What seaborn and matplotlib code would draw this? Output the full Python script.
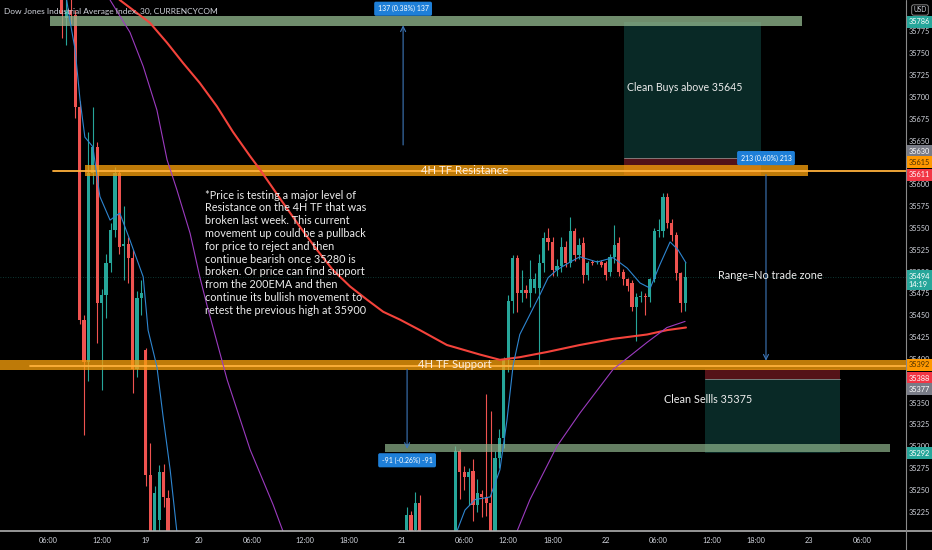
import matplotlib
matplotlib.use("Agg")
import matplotlib.pyplot as plt
import matplotlib.transforms as mtransforms
from matplotlib.patches import Rectangle
from matplotlib.lines import Line2D
import numpy as np
import pandas as pd
import seaborn as sns

# ---------------- 30-minute candles (x = bar slot on the session axis) ----------------
bar_idx = list(range(14, 39)) + [92, 93, 94, 95] + list(range(103, 156))
opens = [35830, 35790, 35800, 35794, 35689, 35445, 35396, 35613, 35643, 35464,
         35473, 35510, 35548, 35613, 35529, 35532, 35516, 35388, 35470, 35410,
         35267, 35180, 35216, 35270, 35241,
         35204, 35221, 35204, 35235,
         35190, 35295, 35270, 35265, 35272, 35233, 35245, 35242, 35235, 35195,
         35287, 35310, 35399, 35466, 35516, 35476, 35479, 35476, 35481, 35481,
         35510, 35539, 35534, 35502, 35506, 35528, 35510, 35546, 35519, 35533,
         35496, 35511, 35511, 35511, 35510, 35499, 35517, 35533, 35500, 35491,
         35487, 35460, 35471, 35472, 35471, 35491, 35546, 35546, 35586, 35556,
         35542, 35498, 35464]
highs = [35840, 35815, 35812, 35800, 35695, 35450, 35660, 35688, 35648, 35480,
         35520, 35556, 35620, 35616, 35575, 35540, 35525, 35478, 35490, 35412,
         35304, 35255, 35279, 35280, 35250,
         35230, 35226, 35248, 35244,
         35300, 35297, 35277, 35275, 35285, 35262, 35250, 35360, 35340, 35295,
         35320, 35402, 35473, 35519, 35519, 35502, 35485, 35513, 35498, 35520,
         35545, 35550, 35540, 35515, 35540, 35535, 35563, 35550, 35538, 35540,
         35512, 35513, 35513, 35513, 35512, 35520, 35553, 35540, 35503, 35493,
         35490, 35475, 35478, 35476, 35493, 35550, 35560, 35590, 35590, 35560,
         35545, 35500, 35511]
lows = [35768, 35760, 35783, 35676, 35440, 35313, 35375, 35600, 35418, 35364,
        35447, 35500, 35540, 35520, 35490, 35487, 35361, 35379, 35450, 35255,
        35150, 35170, 35200, 35230, 35160,
        35195, 35190, 35198, 35190,
        35180, 35240, 35250, 35233, 35215, 35225, 35219, 35220, 35180, 35185,
        35275, 35298, 35385, 35453, 35454, 35465, 35470, 35460, 35475, 35392,
        35500, 35525, 35495, 35495, 35500, 35505, 35505, 35512, 35515, 35487,
        35490, 35508, 35509, 35505, 35490, 35495, 35510, 35495, 35485, 35478,
        35455, 35420, 35465, 35450, 35465, 35488, 35540, 35540, 35550, 35535,
        35490, 35454, 35455]
closes = [35795, 35798, 35794, 35689, 35445, 35396, 35613, 35643, 35464, 35473,
          35510, 35548, 35613, 35528, 35532, 35516, 35388, 35470, 35476, 35267,
          35180, 35247, 35270, 35242, 35180,
          35221, 35195, 35235, 35195,
          35295, 35270, 35265, 35270, 35233, 35247, 35242, 35235, 35195, 35287,
          35310, 35399, 35466, 35516, 35476, 35479, 35476, 35492, 35491, 35510,
          35539, 35534, 35502, 35507, 35528, 35510, 35546, 35519, 35531, 35496,
          35510, 35510, 35512, 35508, 35496, 35517, 35531, 35500, 35491, 35483,
          35460, 35471, 35472, 35471, 35491, 35546, 35548, 35586, 35556, 35542,
          35498, 35464, 35494]

# ---------------- moving averages ----------------
ema200_x = [23.8, 27.1, 33.9, 37.8, 41.4, 45.2, 49.1, 52.7, 56.6, 58.8, 64.0, 67.9,
            71.7, 75.3, 79.2, 83.0, 86.7, 90.5, 95.0, 101.1, 108.6, 113.1, 117.6,
            123.8, 131.2, 138.7, 146.4, 150.9, 155.2]
ema200_y = [35828, 35811, 35785, 35762, 35739, 35716, 35689, 35660, 35632, 35617, 35579, 35551,
            35525, 35502, 35483, 35468, 35454, 35445, 35433, 35416, 35405, 35399, 35402,
            35408, 35416, 35423, 35428, 35433, 35436]

ema_slow_x_a = [22.6, 24.9, 29.4, 32.4, 35.5, 37.8, 40.0, 43.0, 45.2, 46.8, 51.4,
                56.6, 61.8, 64.0, 66.1]
ema_slow_y_a = [35840, 35811, 35774, 35735, 35685, 35628, 35594, 35544, 35494, 35462, 35376,
                35296, 35233, 35203, 35176]
ema_slow_x_b = [114.3, 117.0, 119.9, 126.0, 131.2, 138.7, 146.4, 150.9, 155.0]
ema_slow_y_b = [35176, 35203, 35239, 35300, 35338, 35388, 35419, 35436, 35443]

ema_fast_x_a = [14.9, 15.8, 17.0, 18.1, 19.2, 21.0, 22.6, 24.9, 27.1, 29.4, 32.4,
                33.5, 35.5, 36.9, 38.5, 40.0, 40.7]
ema_fast_y_a = [35817, 35788, 35754, 35697, 35654, 35643, 35586, 35559, 35567, 35536, 35494,
                35433, 35391, 35334, 35273, 35203, 35176]
ema_fast_x_b = [102.3, 103.4, 105.2, 107.5, 110.9, 113.1, 114.7, 116.1, 117.6, 119.9, 122.2,
                124.0, 126.0, 129.0, 131.2, 135.1, 138.7, 141.9, 144.8, 147.1, 149.3,
                151.6, 153.4, 155.2]
ema_fast_y_b = [35176, 35203, 35227, 35239, 35242, 35273, 35330, 35393, 35428, 35451, 35474,
                35493, 35502, 35511, 35517, 35511, 35516, 35504, 35487, 35481, 35508,
                35534, 35525, 35510]

# ---------------- drawn levels ----------------
top_band = (35781, 35793)
resistance_band = (35609, 35622)
resistance_line = 35615
support_band = (35387, 35399)
support_line = 35392
lower_band = (35294, 35303)

long_entry, long_stop, long_target = 35630, 35611, 35786
short_entry, short_stop, short_target = 35377, 35388, 35292

measure_from = [35645, 35611, 35388]
measure_to = [35782, 35398, 35297]
measure_text = ["137 (0.38%) 137", "213 (0.60%) 213", "-91 (-0.26%) -91"]

last_price = 35494

# scale labels (35375 and 35625 sit under the price tags)
price_ticks = [v for v in range(35225, 35776, 25) if v not in (35375, 35625)]
time_tick_pos = [11, 23, 33, 45, 57, 69, 79, 91, 105, 115, 125, 137, 149, 161, 171, 183, 195]
time_tick_labels = ["06:00", "12:00", "19", "20", "06:00", "12:00", "18:00", "21",
                    "06:00", "12:00", "18:00", "22", "06:00", "12:00", "18:00", "23", "06:00"]

note_text = ("*Price is testing a major level of\n"
             "Resistance on the 4H TF that was\n"
             "broken last week. This current\n"
             "movement up could be a pullback\n"
             "for price to reject and then\n"
             "continue bearish once 35280 is\n"
             "broken. Or price can find support\n"
             "from the 200EMA and then\n"
             "continue its bullish movement to\n"
             "retest the previous high at 35900")

# ---------------- style ----------------
BG = "#000000"
UP = "#26a69a"
DOWN = "#ef5350"
TXT = "#d1d4dc"
sns.set_theme(style="dark", rc={"axes.facecolor": BG, "figure.facecolor": BG,
                                "axes.edgecolor": "#8a8a8a", "axes.grid": False})
plt.rcParams["font.family"] = ["Lato", "DejaVu Sans"]

fig = plt.figure(figsize=(9.32, 5.5), dpi=100)
W, H = 932, 550
ax = fig.add_axes([0, 19 / H, 906 / W, 531 / H])
ax.set_facecolor(BG)
XMAX = 906 / 4.42
ax.set_xlim(0, XMAX)
ax.set_ylim(35203, 35811)


def hband(x0, x1, lo, hi, fc, alpha, z):
    ax.add_patch(Rectangle((x0, lo), x1 - x0, hi - lo, fc=fc, ec="none", alpha=alpha, zorder=z))


# long / short position tools
hband(141.2, 172.2, long_entry, long_target, UP, 0.25, 1.5)
hband(141.2, 172.2, long_stop, long_entry, "#f23645", 0.35, 1.5)
hband(159.5, 190.0, short_target, short_entry, UP, 0.25, 1.5)
hband(159.5, 190.0, short_entry, short_stop, "#f23645", 0.35, 1.5)
ax.plot([159.5, 190.0], [short_entry, short_entry], color="#8a8a8a", lw=0.6, zorder=1.6)
ax.plot([141.2, 172.2], [long_entry, long_entry], color="#8a8a8a", lw=0.6, zorder=1.6)

# candles
df = pd.DataFrame({"x": bar_idx, "o": opens, "h": highs, "l": lows, "c": closes})
df["col"] = np.where(df["c"] >= df["o"], UP, DOWN)
ax.vlines(df["x"], df["l"], df["h"], colors=df["col"], lw=0.8, zorder=2)
body_lo = df[["o", "c"]].min(axis=1)
body_h = (df["c"] - df["o"]).abs().clip(lower=1.0)
ax.bar(df["x"], body_h, bottom=body_lo, width=0.72, color=df["col"], lw=0, zorder=2.1)

# levels over candles
hband(11.3, 181.4, *top_band, "#8fb58c", 0.78, 3)
hband(19.2, 182.8, *resistance_band, "#f59e0b", 0.78, 3)
hband(0, XMAX, *support_band, "#f59e0b", 0.78, 3)
hband(87.1, 201.4, *lower_band, "#8fb58c", 0.7, 3)
ax.plot([12.0, XMAX], [resistance_line] * 2, color="#ffb13b", lw=1.3, zorder=3.1)
ax.plot([6.8, XMAX], [support_line] * 2, color="#ffb13b", lw=1.3, zorder=3.1)
ax.axhline(last_price, color=UP, lw=0.6, ls=(0, (1, 2)), alpha=0.45, zorder=1)


# moving averages
def trace(xs, ys, color, lw):
    sns.lineplot(x=xs, y=ys, ax=ax, color=color, lw=lw, sort=False,
                 estimator=None, zorder=4)


trace(ema200_x, ema200_y, "#f4433b", 1.5)
trace(ema_slow_x_a, ema_slow_y_a, "#9c3bc0", 0.8)
trace(ema_slow_x_b, ema_slow_y_b, "#9c3bc0", 0.8)
trace(ema_fast_x_a, ema_fast_y_a, "#2e86d1", 0.8)
trace(ema_fast_x_b, ema_fast_y_b, "#2e86d1", 0.8)

# measurement arrows and labels
meas_x = [91.2, 173.3, 92.1]
label_y = [35801, 35630, 35284]
for x, y0, y1, t, ly in zip(meas_x, measure_from, measure_to, measure_text, label_y):
    ax.annotate("", xy=(x, y1), xytext=(x, y0), zorder=4.5,
                arrowprops=dict(arrowstyle="->,head_length=0.3,head_width=0.15",
                                color="#3d76b8", lw=0.8, shrinkA=0, shrinkB=0))
    ax.text(x, ly, t, ha="center", va="center", fontsize=5.0, color="white", zorder=6,
            bbox=dict(boxstyle="round,pad=0.5,rounding_size=0.25", fc="#1e7fd8", ec="none"))

# annotations
ax.text(46.4, 35594, note_text, ha="left", va="top", fontsize=7.8, color="#ececec",
        linespacing=1.2, zorder=6)
ax.text(105.2, 35616, "4H TF Resistance", ha="center", va="center", fontsize=8.2,
        color="#fbeee0", zorder=6)
ax.text(103.0, 35394, "4H TF Support", ha="center", va="center", fontsize=8.2,
        color="#fbeee0", zorder=6)
ax.text(154.8, 35711, "Clean Buys above 35645", ha="center", va="center", fontsize=7.6,
        color="#ececec", zorder=6)
ax.text(174.2, 35496, "Range=No trade zone", ha="center", va="center", fontsize=7.8,
        color="#ececec", zorder=6)
ax.text(160.2, 35353, "Clean Sellls 35375", ha="center", va="center", fontsize=7.8,
        color="#ececec", zorder=6)

# axes
ax.yaxis.tick_right()
ax.set_yticks(price_ticks)
ax.set_yticklabels([str(v) for v in price_ticks])
ax.set_xticks(time_tick_pos)
ax.set_xticklabels(time_tick_labels)
ax.tick_params(axis="y", length=0, pad=2.2, labelsize=5.3, labelcolor=TXT)
ax.tick_params(axis="x", length=0, pad=4.5, labelsize=5.3, labelcolor=TXT)
for s in ["top", "left", "right", "bottom"]:
    ax.spines[s].set_visible(False)
ax.set_xlabel("")
ax.set_ylabel("")
fig.add_artist(Line2D([0, 1], [19 / H, 19 / H], color="#b0b0b0", lw=1.2))
fig.add_artist(Line2D([906 / W, 906 / W], [0, 1], color="#8a8a8a", lw=0.8))

# price tags on the scale
tr = mtransforms.blended_transform_factory(ax.transAxes, ax.transData)
tags = [(35786, "35786", UP, "white", 0),
        (35630, "35630", "#787b86", "white", 7),
        (35615, "35615", "#ff9800", "#4a2e00", 9),
        (35611, "35611", "#f23645", "white", 0),
        (35392, "35392", "#ff9800", "#4a2e00", 1),
        (35388, "35388", "#f23645", "white", -9),
        (35377, "35377", "#787b86", "white", -10),
        (35292, "35292", UP, "white", 0)]
for price, s, bg, fg, dy in tags:
    t = mtransforms.offset_copy(tr, fig=fig, x=2.0, y=dy * 0.72, units="points")
    ax.text(1.0, price, s, transform=t, ha="left", va="center", fontsize=5.3, color=fg,
            zorder=7, clip_on=False,
            bbox=dict(boxstyle="square,pad=0.35", fc=bg, ec="none"))
t = mtransforms.offset_copy(tr, fig=fig, x=2.0, y=3.0, units="points")
ax.text(1.0, last_price, "35494\n14:19", transform=t, ha="left", va="top", fontsize=5.3,
        color="white", zorder=7, clip_on=False, linespacing=1.15,
        bbox=dict(boxstyle="square,pad=0.35", fc=UP, ec="none"))

# header
fig.text(4 / W, 1 - 11 / H, "Dow Jones Industrial Average Index, 30, CURRENCYCOM",
         ha="left", va="center", fontsize=6.0, color=TXT)
fig.text(920 / W, 1 - 10 / H, "USD", ha="center", va="center", fontsize=4.8, color=TXT,
         bbox=dict(boxstyle="round,pad=0.25,rounding_size=0.3", fc=BG, ec="#9a9a9a", lw=0.6))

fig.savefig("out.png", dpi=100, facecolor=BG)
